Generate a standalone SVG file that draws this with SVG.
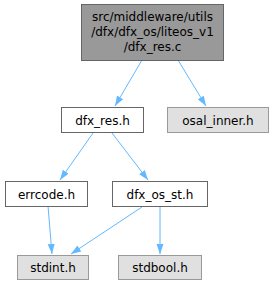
<svg xmlns="http://www.w3.org/2000/svg" width="275" height="285" viewBox="0 0 275 285">
<style>
text{font-family:"DejaVu Sans",sans-serif;font-size:12px;text-anchor:middle;fill:#000}
.n{fill:#fff;stroke:#666}
.g{fill:#e0e0e0;stroke:#999}
.t{fill:#999;stroke:#666}
.e{stroke:#63b8ff;fill:none}
</style>
<defs><marker id="a" viewBox="0 0 10 10" refX="10" refY="5" markerWidth="10" markerHeight="10" markerUnits="userSpaceOnUse" orient="auto"><path d="M0,1.5L10,5L0,8.5z" fill="#63b8ff"/></marker></defs>
<g id="edges">
<path class="e" d="M142,60L115,106" marker-end="url(#a)"/>
<path class="e" d="M178,60L206,106" marker-end="url(#a)"/>
<path class="e" d="M93,133L60,180" marker-end="url(#a)"/>
<path class="e" d="M112,133L148,180" marker-end="url(#a)"/>
<path class="e" d="M48,206L52,254" marker-end="url(#a)"/>
<path class="e" d="M142,207L71,254" marker-end="url(#a)"/>
<path class="e" d="M160,207L160,254" marker-end="url(#a)"/>
</g>
<g id="n0"><rect class="t" x="81.5" y="4.5" width="142" height="56"/><text x="152.5" y="21">src/middleware/utils</text><text x="152.5" y="36">/dfx/dfx_os/liteos_v1</text><text x="152.5" y="51">/dfx_res.c</text></g>
<g id="n1"><rect class="n" x="61.5" y="107.5" width="82" height="25"/><text x="102.5" y="124.5">dfx_res.h</text></g>
<g id="n2"><rect class="g" x="167.5" y="107.5" width="101" height="25"/><text x="218" y="124.5">osal_inner.h</text></g>
<g id="n3"><rect class="n" x="5.5" y="181.5" width="82" height="25"/><text x="46.5" y="198.5">errcode.h</text></g>
<g id="n4"><rect class="n" x="112.5" y="181.5" width="95" height="25"/><text x="160" y="198.5">dfx_os_st.h</text></g>
<g id="n5"><rect class="g" x="17.5" y="255.5" width="71" height="24"/><text x="53" y="272">stdint.h</text></g>
<g id="n6"><rect class="g" x="118.5" y="255.5" width="83" height="24"/><text x="160" y="272">stdbool.h</text></g>
</svg>
